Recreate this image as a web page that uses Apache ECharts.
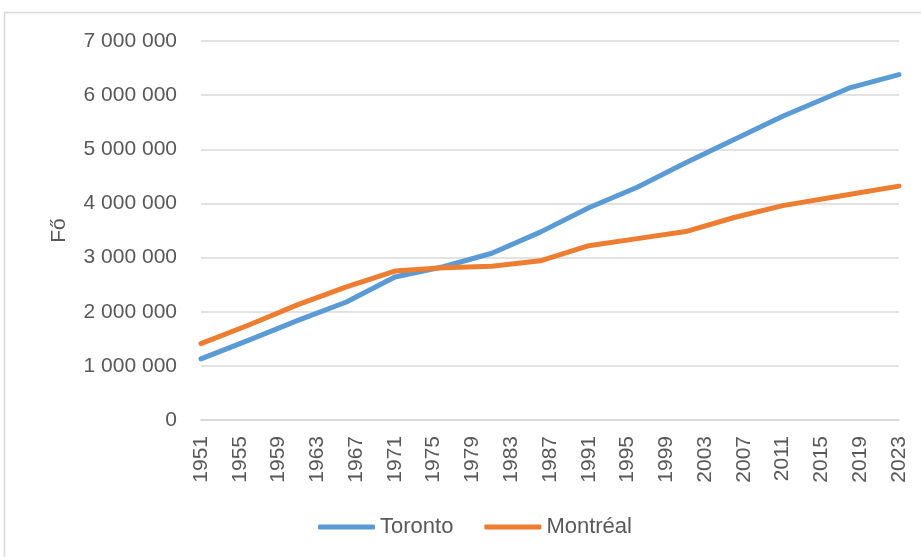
<!DOCTYPE html>
<html>
<head>
<meta charset="utf-8">
<script src="https://cdn.jsdelivr.net/npm/echarts@6/dist/echarts.min.js"></script>
<style>
  html, body { margin: 0; padding: 0; background: #fff; }
  #chart { width: 921px; height: 557px; }
</style>
</head>
<body>
<div id="chart"></div>
<script>
// data points (census years + latest estimate)
const years = [1951, 1956, 1961, 1966, 1971, 1976, 1981, 1986, 1991, 1996, 2001, 2006, 2011, 2018, 2023];
const toronto = [1130000, 1480000, 1840000, 2180000, 2640000, 2830000, 3080000, 3470000, 3920000, 4300000, 4750000, 5180000, 5610000, 6140000, 6380000];
const montreal = [1410000, 1760000, 2130000, 2460000, 2750000, 2810000, 2840000, 2940000, 3220000, 3350000, 3480000, 3740000, 3960000, 4170000, 4320000];
const xTicks = [1951, 1955, 1959, 1963, 1967, 1971, 1975, 1979, 1983, 1987, 1991, 1995, 1999, 2003, 2007, 2011, 2015, 2019, 2023];

const textColor = '#595959';
const font = 'Liberation Sans';

function pairs(vals) {
  return years.map((y, i) => [y, vals[i]]);
}

const myChart = echarts.init(document.getElementById('chart'), null, { renderer: 'canvas' });

myChart.setOption({
  animation: false,
  graphic: [
    {
      type: 'rect',
      shape: { x: 4.5, y: 12.5, width: 940, height: 580 },
      style: { fill: 'none', stroke: '#d9d9d9', lineWidth: 1.5 },
      silent: true
    }
  ],
  grid: { left: 201, right: 22, top: 41, bottom: 137 },
  xAxis: {
    type: 'value',
    min: 1951,
    max: 2023,
    axisLine: { show: true, lineStyle: { color: '#d9d9d9', width: 1.5 } },
    axisTick: { show: false },
    splitLine: { show: false },
    axisLabel: {
      customValues: xTicks,
      rotate: 90,
      margin: 16,
      color: textColor,
      fontFamily: font,
      fontSize: 21,
      formatter: (v) => String(v)
    }
  },
  yAxis: {
    type: 'value',
    min: 0,
    max: 7000000,
    interval: 1000000,
    name: 'Fő',
    nameLocation: 'middle',
    nameGap: 131,
    nameTextStyle: { color: textColor, fontFamily: font, fontSize: 21 },
    axisLine: { show: false },
    axisTick: { show: false },
    splitLine: { lineStyle: { color: '#d9d9d9', width: 1.5 } },
    axisLabel: {
      margin: 24,
      color: textColor,
      fontFamily: font,
      fontSize: 21,
      formatter: (v) => String(v).replace(/\B(?=(\d{3})+(?!\d))/g, ' ')
    }
  },
  legend: {
    left: 313,
    top: 511,
    icon: 'roundRect',
    itemWidth: 57,
    itemHeight: 5,
    itemGap: 31,
    textStyle: { color: textColor, fontFamily: font, fontSize: 22 },
    data: ['Toronto', 'Montréal']
  },
  series: [
    {
      name: 'Toronto',
      type: 'line',
      data: pairs(toronto),
      symbol: 'none',
      lineStyle: { color: '#5B9BD5', width: 5, cap: 'round', join: 'round' },
      itemStyle: { color: '#5B9BD5' }
    },
    {
      name: 'Montréal',
      type: 'line',
      data: pairs(montreal),
      symbol: 'none',
      lineStyle: { color: '#ED7D31', width: 5, cap: 'round', join: 'round' },
      itemStyle: { color: '#ED7D31' }
    }
  ]
});
</script>
</body>
</html>
